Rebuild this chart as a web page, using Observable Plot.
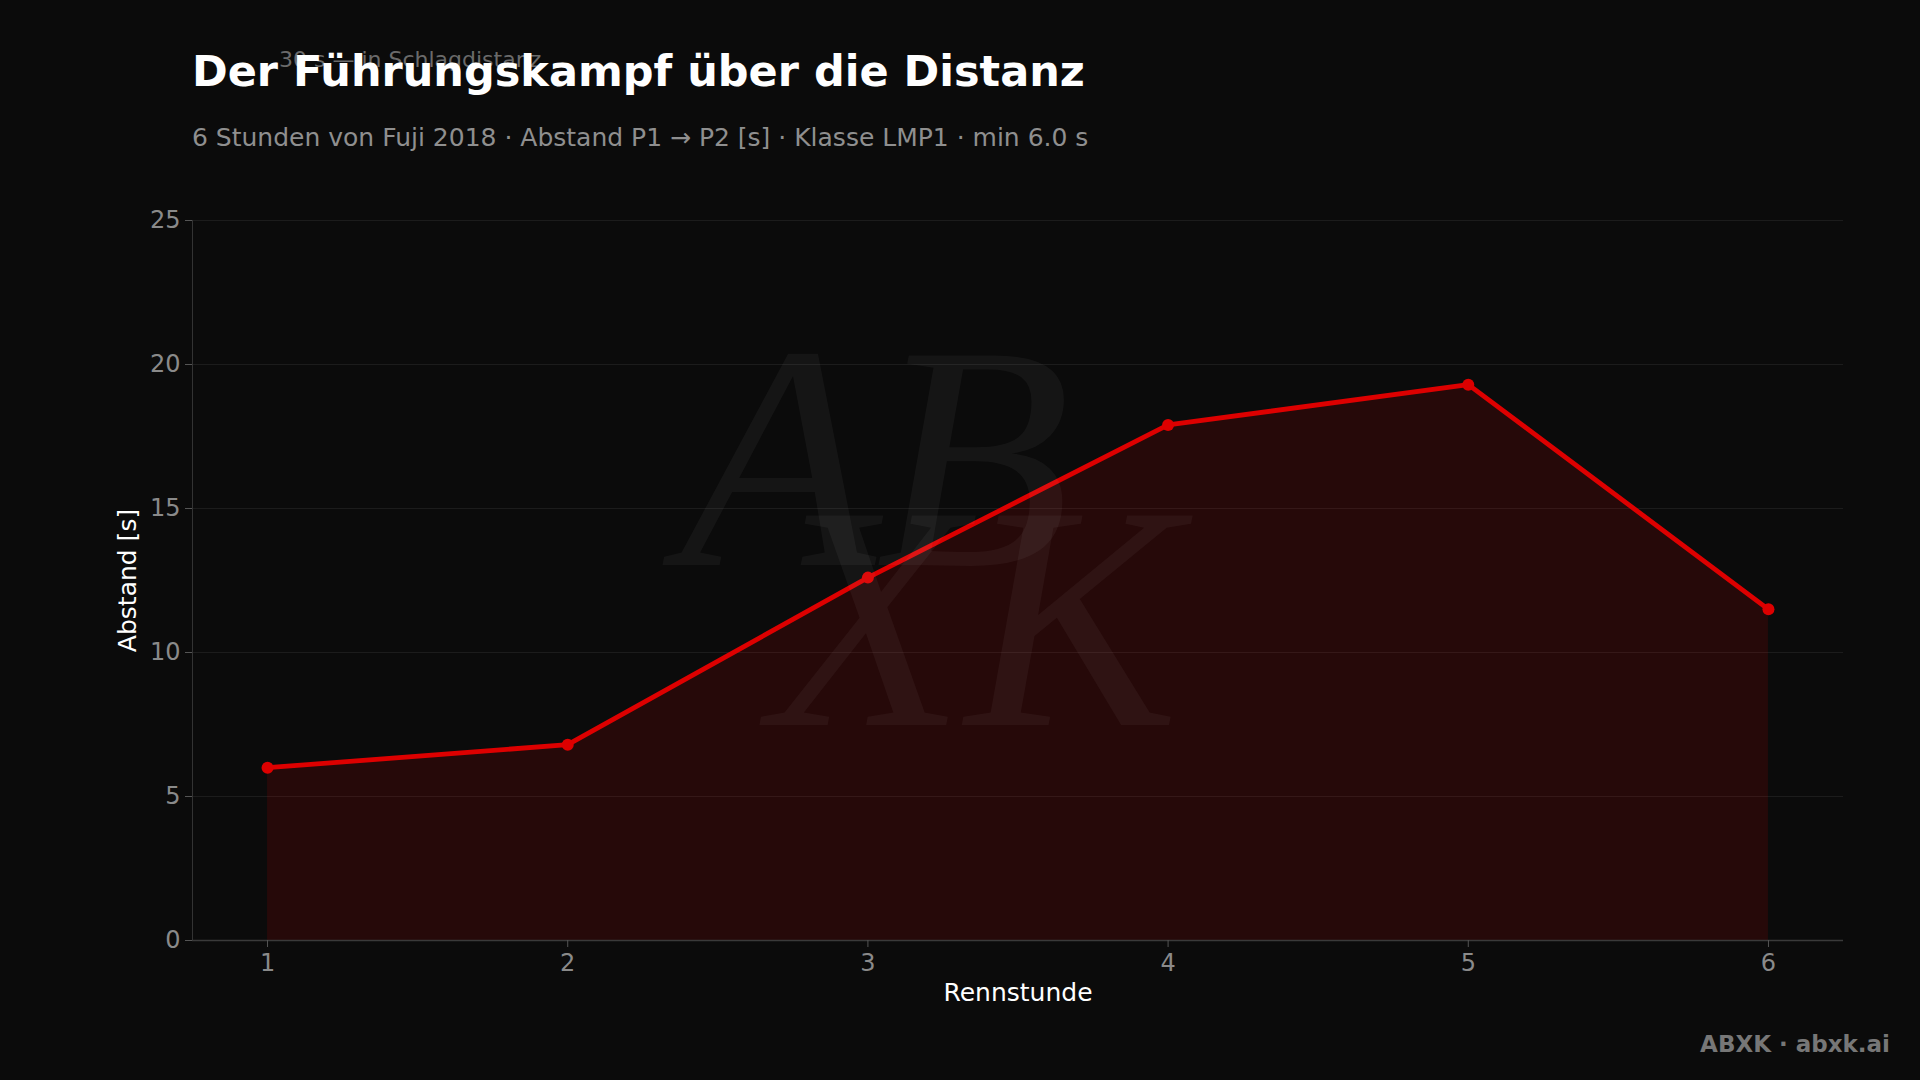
<!DOCTYPE html>
<html>
<head>
<meta charset="utf-8">
<script src="https://cdn.jsdelivr.net/npm/d3@7"></script>
<script src="https://cdn.jsdelivr.net/npm/@observablehq/plot@0.6"></script>
<style>
  html, body { margin: 0; padding: 0; background: #0b0b0b; }
  body { width: 1920px; height: 1080px; position: relative; overflow: hidden; font-family: "DejaVu Sans", sans-serif; }
  #header { position: relative; height: 190px; }
  #note { position: absolute; left: 279px; top: 49px; font-size: 22px; line-height: 1; color: #6a6a6a; white-space: nowrap; }
  #title { position: absolute; left: 192px; top: 50px; font-size: 43px; line-height: 1; font-weight: bold; color: #ffffff; white-space: nowrap; }
  #subtitle { position: absolute; left: 192px; top: 125px; font-size: 25px; line-height: 1; color: #8f8f8f; white-space: nowrap; }
  #footer { position: absolute; right: 30px; top: 1033px; font-size: 23px; line-height: 1; font-weight: bold; color: #777777; white-space: nowrap; }
  #wm { position: absolute; left: 0; top: 0; pointer-events: none; }
</style>
</head>
<body>
<div id="header">
  <div id="note">30 s — in Schlagdistanz</div>
  <div id="title">Der Führungskampf über die Distanz</div>
  <div id="subtitle">6 Stunden von Fuji 2018 · Abstand P1 → P2 [s] · Klasse LMP1 · min 6.0 s</div>
</div>
<div id="chart"></div>
<svg id="wm" width="1920" height="1080">
  <text font-family="Liberation Serif" font-style="italic" font-size="320" fill="#ffffff" fill-opacity="0.045"><tspan x="680" y="565">AB</tspan><tspan x="770" y="725">XK</tspan></text>
</svg>
<div id="footer">ABXK · abxk.ai</div>
<script>
const hours = [1, 2, 3, 4, 5, 6];
const gaps = [6.0, 6.8, 12.6, 17.9, 19.3, 11.5];
const yTicks = [0, 5, 10, 15, 20, 25];
const xLabel = "Rennstunde";
const yLabel = "Abstand [s]";

const data = hours.map((h, i) => ({hour: h, gap: gaps[i]}));
const red = "#dd0000";

const chart = Plot.plot({
  width: 1920,
  height: 890,
  marginTop: 30,
  marginLeft: 192,
  marginRight: 77,
  marginBottom: 140,
  style: {background: "#0b0b0b", color: "#8a8a8a", fontFamily: "DejaVu Sans", fontSize: "24px"},
  x: {domain: [0.75, 6.25], label: null},
  y: {domain: [0, 25], label: null},
  marks: [
    Plot.gridY(yTicks, {stroke: "#ffffff", strokeOpacity: 0.07, strokeWidth: 1}),
    Plot.areaY(data, {x: "hour", y: "gap", fill: red, fillOpacity: 0.13}),
    Plot.ruleX([0.75], {stroke: "#333333", strokeWidth: 1}),
    Plot.ruleY([0], {stroke: "#3a3a3a", strokeWidth: 1.5}),
    Plot.lineY(data, {x: "hour", y: "gap", stroke: red, strokeWidth: 4.8, strokeLinejoin: "round"}),
    Plot.dot(data, {x: "hour", y: "gap", r: 6, fill: red, stroke: "none"}),
    Plot.axisX(hours, {tickSize: 7, tickPadding: 6, stroke: "#555555", fill: "#8a8a8a", fontSize: 24, label: null, tickFormat: d => String(d)}),
    Plot.axisY(yTicks, {tickSize: 7, tickPadding: 5, stroke: "#555555", fill: "#8a8a8a", fontSize: 24, label: null}),
    Plot.text([xLabel], {frameAnchor: "bottom", dy: 60, fill: "#ffffff", fontSize: 25, text: d => d}),
    Plot.text([yLabel], {frameAnchor: "left", dx: -65, rotate: -90, textAnchor: "middle", fill: "#ffffff", fontSize: 25, text: d => d})
  ]
});
document.getElementById("chart").append(chart);
</script>
</body>
</html>
